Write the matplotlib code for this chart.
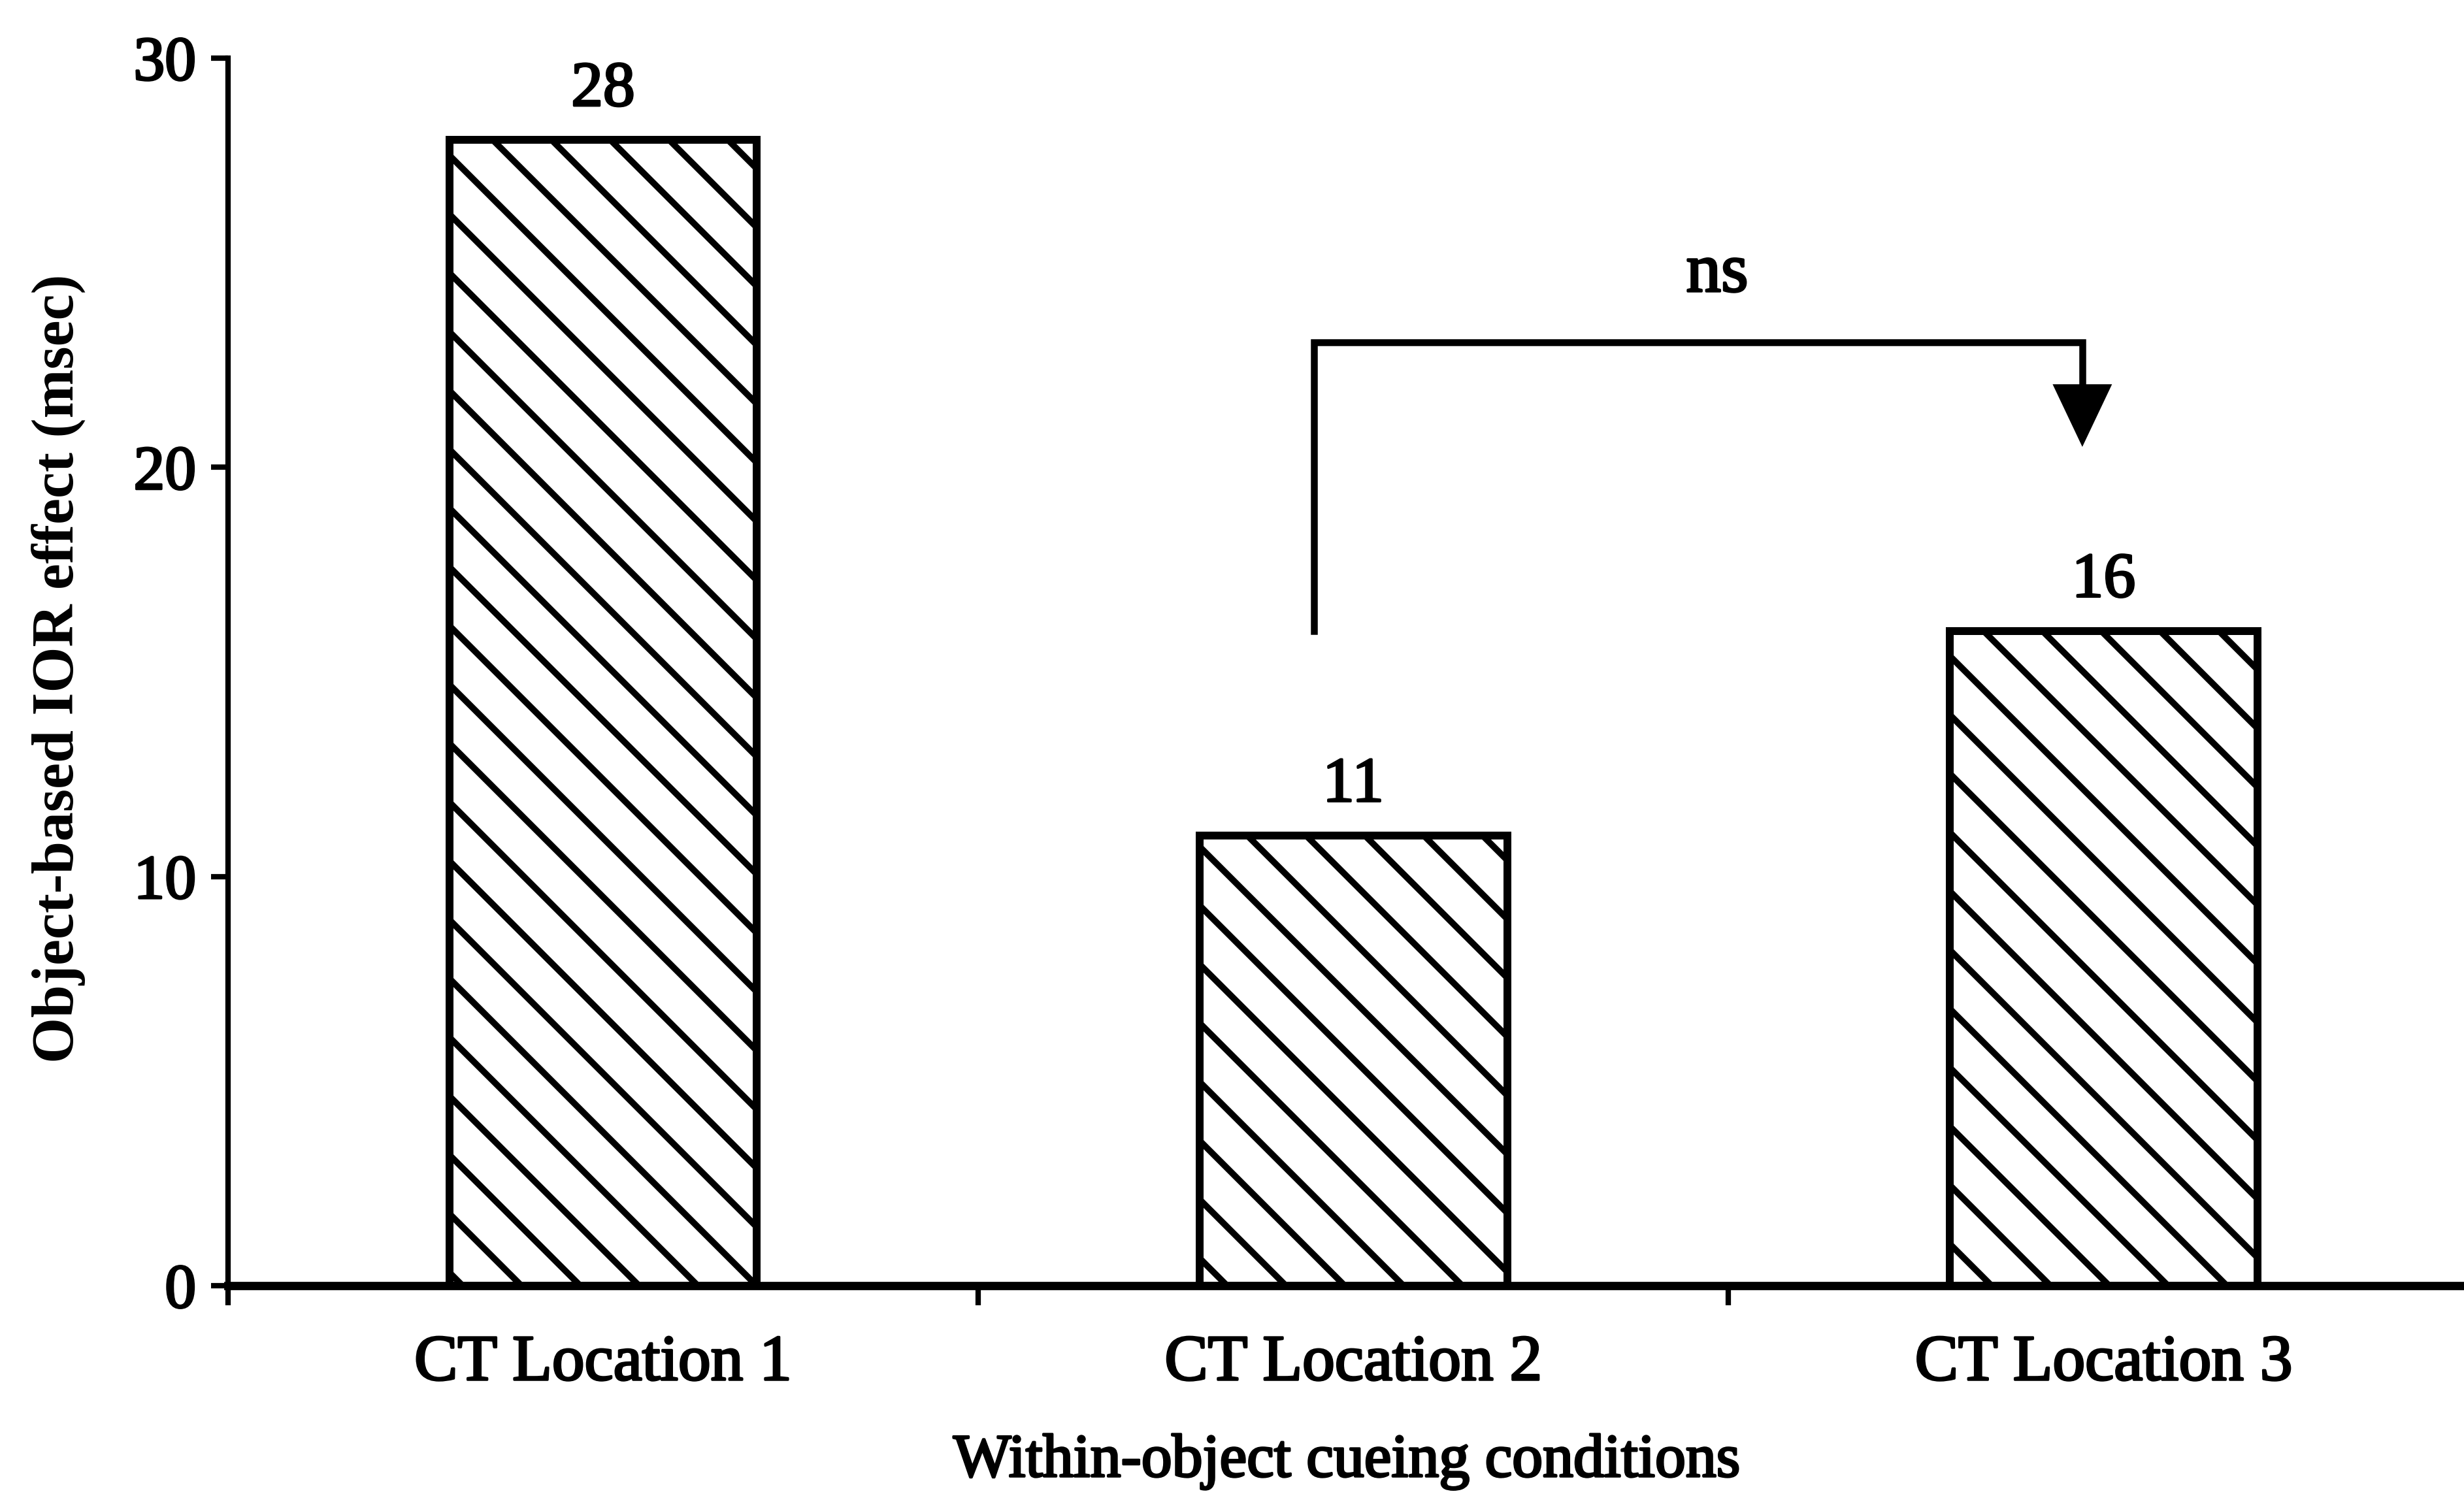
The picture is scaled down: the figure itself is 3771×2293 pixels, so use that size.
import matplotlib
matplotlib.use("Agg")
import matplotlib.pyplot as plt
import matplotlib.patheffects as pe
from matplotlib.patches import Polygon

# Object-based IOR effect for each within-object cueing condition
conditions = ["CT Location 1", "CT Location 2", "CT Location 3"]
ior_effect = [28, 11, 16]
y_ticks = [0, 10, 20, 30]
significance_label = "ns"

DPI = 270
plt.rcParams["font.family"] = ["Liberation Serif", "DejaVu Serif"]
plt.rcParams["hatch.linewidth"] = 2.6
plt.rcParams["hatch.color"] = "black"

# slightly heavier strokes for all text
heavy = [pe.withStroke(linewidth=0.9, foreground="black")]

fig = plt.figure(figsize=(3771 / DPI, 2293 / DPI), dpi=DPI)
fig.patch.set_facecolor("white")
ax = fig.add_axes([0.0925, 0.1417, 0.9135, 0.8195])

x = list(range(len(conditions)))
bars = ax.bar(x, ior_effect, width=0.41, facecolor="white",
              edgecolor="black", linewidth=3.2, hatch="\\", zorder=2)

ax.set_xlim(-0.5, len(conditions) - 0.5)
ax.set_ylim(y_ticks[0], y_ticks[-1])

# axes frame: only left and bottom spines
for side in ("top", "right"):
    ax.spines[side].set_visible(False)
ax.spines["left"].set_linewidth(2.2)
ax.spines["bottom"].set_linewidth(3.4)
ax.spines["bottom"].set_zorder(3)

ax.set_yticks(y_ticks)
ax.tick_params(axis="y", direction="out", length=7, width=2.2,
               labelsize=25.5, pad=6)

ax.set_xticks(x)
ax.set_xticklabels(conditions)
ax.set_xticks([i - 0.5 for i in range(len(conditions) + 1)], minor=True)
ax.tick_params(axis="x", which="major", length=0, pad=20, labelsize=26.5)
ax.tick_params(axis="x", which="minor", direction="out", length=8, width=2.2)

for lbl in ax.get_xticklabels() + ax.get_yticklabels():
    lbl.set_path_effects(heavy)

# value labels above each bar
for bar, val in zip(bars, ior_effect):
    ax.annotate(f"{val}", xy=(bar.get_x() + bar.get_width() / 2, val),
                xytext=(0, 14), textcoords="offset points",
                ha="center", va="baseline", fontsize=26,
                path_effects=heavy)

# comparison bracket between locations 2 and 3 with arrowhead
left_x, right_x = 0.9475, 1.9716
bracket_y = 23.05
leg_bottom = ior_effect[2]
head_top, head_tip = 22.0, 20.57
head_half = 0.037
ax.plot([left_x, left_x, right_x, right_x],
        [leg_bottom, bracket_y, bracket_y, head_top],
        color="black", lw=2.8, solid_joinstyle="miter", zorder=4)
ax.add_patch(Polygon([[right_x - head_half, head_top],
                      [right_x + head_half, head_top],
                      [right_x, head_tip]],
                     closed=True, facecolor="black", edgecolor="black",
                     lw=1, zorder=4))
ax.text(1.485, 24.3, significance_label, ha="center", va="baseline",
        fontsize=28.5, path_effects=heavy)

ax.set_xlabel("Within-object cueing conditions", fontsize=25,
              path_effects=heavy)
ax.xaxis.set_label_coords(0.497, -0.1434)
ax.xaxis.label.set_va("center")

ax.set_ylabel("Object-based IOR effect (msec)", fontsize=24,
              fontweight="bold")
ax.yaxis.set_label_coords(-0.0754, 0.503)
ax.yaxis.label.set_va("center")

fig.savefig("out.png", dpi=DPI, facecolor="white")
